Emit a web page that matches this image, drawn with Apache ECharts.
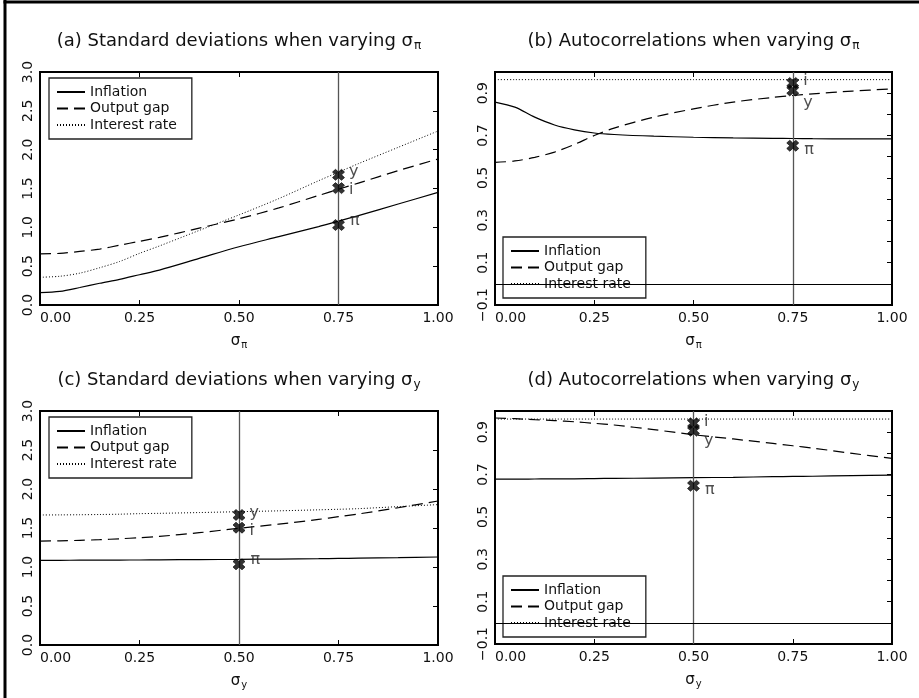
<!DOCTYPE html>
<html><head><meta charset="utf-8">
<script src="https://cdn.jsdelivr.net/npm/echarts@6/dist/echarts.min.js"></script>
<style>html,body{margin:0;padding:0;background:#fff}#c{width:919px;height:698px}</style>
</head><body><div id="c"></div>
<script>
// ---------- data ----------
const xs = [0, 0.05, 0.1, 0.15, 0.2, 0.25, 0.3, 0.4, 0.5, 0.6, 0.7, 0.75, 0.8, 0.9, 1.0];
const seriesNames = ['Inflation', 'Output gap', 'Interest rate'];
const panelTitles = ['(a) Standard deviations when varying', '(b) Autocorrelations when varying',
                     '(c) Standard deviations when varying', '(d) Autocorrelations when varying'];
const varySub = ['π', 'π', 'y', 'y'];

// (a) standard deviations, varying sigma_pi
const aInflation = [0.159, 0.175, 0.225, 0.28, 0.33, 0.39, 0.45, 0.60, 0.75, 0.88, 1.01, 1.08, 1.15, 1.30, 1.45];
const aOutput    = [0.658, 0.665, 0.69, 0.72, 0.77, 0.82, 0.87, 0.99, 1.11, 1.25, 1.41, 1.49, 1.57, 1.73, 1.88];
const aInterest  = [0.357, 0.37, 0.41, 0.48, 0.56, 0.665, 0.76, 0.96, 1.16, 1.37, 1.60, 1.71, 1.82, 2.03, 2.24];
// (b) autocorrelations, varying sigma_pi
const bInflation = [0.858, 0.834, 0.787, 0.75, 0.727, 0.712, 0.705, 0.697, 0.692, 0.689, 0.687, 0.686, 0.685, 0.684, 0.684];
const bOutput    = [0.573, 0.58, 0.597, 0.622, 0.658, 0.70, 0.735, 0.787, 0.826, 0.858, 0.88, 0.889, 0.897, 0.91, 0.92];
const bInterest  = [0.964, 0.964, 0.964, 0.964, 0.964, 0.964, 0.964, 0.964, 0.964, 0.964, 0.964, 0.964, 0.964, 0.964, 0.964];
// (c) standard deviations, varying sigma_y
const cInflation = [1.085, 1.086, 1.087, 1.088, 1.089, 1.09, 1.092, 1.095, 1.098, 1.102, 1.107, 1.11, 1.113, 1.12, 1.128];
const cOutput    = [1.333, 1.335, 1.342, 1.35, 1.362, 1.376, 1.392, 1.44, 1.496, 1.55, 1.61, 1.645, 1.68, 1.76, 1.846];
const cInterest  = [1.667, 1.668, 1.67, 1.673, 1.677, 1.684, 1.688, 1.698, 1.709, 1.72, 1.733, 1.74, 1.748, 1.774, 1.80];
// (d) autocorrelations, varying sigma_y
const dInflation = [0.678, 0.678, 0.679, 0.68, 0.68, 0.681, 0.682, 0.683, 0.685, 0.687, 0.69, 0.691, 0.692, 0.695, 0.697];
const dOutput    = [0.967, 0.964, 0.959, 0.955, 0.949, 0.942, 0.934, 0.912, 0.888, 0.868, 0.847, 0.836, 0.825, 0.80, 0.776];
const dInterest  = [0.962, 0.962, 0.962, 0.962, 0.962, 0.962, 0.962, 0.962, 0.962, 0.962, 0.962, 0.962, 0.962, 0.962, 0.962];

// benchmark points (x position of the vertical line and marked values)
const benchX = [0.75, 0.75, 0.5, 0.5];
const markLabelsA = ['y', 'i', 'π'], markValuesA = [1.676, 1.505, 1.03];
const markLabelsB = ['i', 'y', 'π'], markValuesB = [0.948, 0.913, 0.652];
const markLabelsC = ['y', 'i', 'π'], markValuesC = [1.667, 1.504, 1.034];
const markLabelsD = ['i', 'y', 'π'], markValuesD = [0.942, 0.907, 0.647];

// ---------- layout / styles ----------
const FONT = 'DejaVu Sans';
const panels = [
  {inf: aInflation, out: aOutput, int: aInterest, labs: markLabelsA, vals: markValuesA, kind: 'sd'},
  {inf: bInflation, out: bOutput, int: bInterest, labs: markLabelsB, vals: markValuesB, kind: 'ac'},
  {inf: cInflation, out: cOutput, int: cInterest, labs: markLabelsC, vals: markValuesC, kind: 'sd'},
  {inf: dInflation, out: dOutput, int: dInterest, labs: markLabelsD, vals: markValuesD, kind: 'ac'}
];
const gridRects = [
  {left: 40, top: 72, width: 398, height: 233},
  {left: 495, top: 72, width: 397, height: 233},
  {left: 40, top: 411, width: 398, height: 234},
  {left: 495, top: 411, width: 397, height: 233}
];
const legendPos = [{left: 49, top: 78}, {left: 503, top: 237}, {left: 49, top: 417}, {left: 503, top: 576}];
const labelOffsets = [
  {y: [0, -3], i: [0, 2], 'π': [1, -4]},
  {i: [0, -2], y: [0, 12], 'π': [1, 4]},
  {y: [0, -2], i: [0, 3], 'π': [1, -5]},
  {i: [0, -1], y: [0, 10], 'π': [1, 4]}
];
const XPATH = 'path://M0,2.5 L2.5,0 L5,2.5 L7.5,0 L10,2.5 L7.5,5 L10,7.5 L7.5,10 L5,7.5 L2.5,10 L0,7.5 L2.5,5 Z';
const lineTypes = ['solid', [11, 6], [1, 2]];

const subRich = (fs) => ({
  s: {fontSize: fs, fontFamily: FONT, color: '#111'},
  sub: {fontSize: Math.round(fs * 0.68), fontFamily: FONT, color: '#111', padding: [Math.round(fs * 0.5), 0, 0, 1]}
});

const option = {
  animation: false,
  backgroundColor: '#fff',
  title: [], grid: [], xAxis: [], yAxis: [], legend: [], series: [],
  graphic: [
    {type: 'line', shape: {x1: 5, y1: 0, x2: 5, y2: 698}, style: {stroke: '#000', lineWidth: 3}, silent: true},
    {type: 'line', shape: {x1: 3.5, y1: 2, x2: 919, y2: 2}, style: {stroke: '#000', lineWidth: 3}, silent: true}
  ]
};

panels.forEach((p, k) => {
  const g = gridRects[k];
  const sd = p.kind === 'sd';
  option.title.push({
    text: panelTitles[k] + ' {s|σ}{sub|' + varySub[k] + '}',
    left: g.left + g.width / 2, top: g.top - 41, textAlign: 'center', padding: 0,
    textStyle: {fontSize: 18, fontWeight: 'normal', fontFamily: FONT, color: '#111', rich: subRich(18)}
  });
  option.grid.push(Object.assign({}, g, {show: true, borderColor: '#000', borderWidth: 2,
    backgroundColor: 'transparent', containLabel: false, outerBoundsMode: 'none'}));
  const xBase = {type: 'value', gridIndex: k, min: 0, max: 1, interval: 0.25,
    splitLine: {show: false}, axisLine: {show: false, onZero: false}};
  option.xAxis.push(Object.assign({}, xBase, {
    position: 'bottom',
    name: '{s|σ}{sub|' + varySub[k] + '}', nameLocation: 'middle', nameGap: 27,
    nameTextStyle: {rich: subRich(15)},
    axisTick: {show: true, inside: true, length: 5, lineStyle: {color: '#000', width: 1}},
    axisLabel: {show: true, fontSize: 14, fontFamily: FONT, color: '#111', margin: 6,
      alignMinLabel: 'left', showMinLabel: true, showMaxLabel: true,
      formatter: v => v.toFixed(2)}
  }));
  option.xAxis.push(Object.assign({}, xBase, {
    position: 'top',
    axisTick: {show: true, inside: true, length: 5, lineStyle: {color: '#000', width: 1}},
    axisLabel: {show: false}
  }));
  const yBase = sd ? {min: 0, max: 3, interval: 0.5} : {min: -0.1, max: 1.0, interval: 0.1};
  const yFmt = sd ? (v => v.toFixed(1)) :
    (v => { const t = Math.round(v * 10); return (Math.abs(t) % 2 === 1) ? (t < 0 ? '\u2212' : '') + (Math.abs(t) / 10).toFixed(1) : ''; });
  option.yAxis.push(Object.assign({type: 'value', gridIndex: k, position: 'left',
    splitLine: {show: false}, axisLine: {show: false, onZero: false}, axisTick: {show: false},
    axisLabel: {show: true, rotate: 90, fontSize: 14, fontFamily: FONT, color: '#111', margin: 5,
      showMinLabel: true, showMaxLabel: true, formatter: yFmt}}, yBase));
  option.yAxis.push(Object.assign({type: 'value', gridIndex: k, position: 'right',
    splitLine: {show: false}, axisLine: {show: false, onZero: false},
    axisTick: {show: true, inside: true, length: 5, lineStyle: {color: '#000', width: 1}},
    axisLabel: {show: false}}, yBase));

  option.legend.push(Object.assign({
    orient: 'vertical', data: seriesNames, selectedMode: false,
    backgroundColor: '#fff', borderColor: '#222', borderWidth: 1.3, borderRadius: 0,
    padding: [7, 15, 7, 7], itemWidth: 28, itemHeight: 14, itemGap: 2.5,
    itemStyle: {opacity: 0, color: 'transparent', borderWidth: 0},
    textStyle: {fontSize: 14, fontFamily: FONT, color: '#111'}
  }, legendPos[k]));

  [p.inf, p.out, p.int].forEach((arr, j) => {
    option.series.push({
      type: 'line', name: seriesNames[j], xAxisIndex: 2 * k, yAxisIndex: 2 * k,
      data: xs.map((x, i) => [x, arr[i]]), smooth: 0.3, symbol: 'none', silent: true,
      lineStyle: {color: '#000', width: j === 2 ? 1 : 1.2, type: lineTypes[j]},
      itemStyle: {color: '#000'}, z: 2
    });
  });

  const mlData = [{xAxis: benchX[k], lineStyle: {color: '#555', width: 1.3, type: 'solid'}}];
  if (!sd) mlData.push({yAxis: 0, lineStyle: {color: '#000', width: 1.1, type: 'solid'}});
  option.series.push({
    type: 'scatter', name: 'bench' + k, xAxisIndex: 2 * k, yAxisIndex: 2 * k, silent: true,
    symbol: XPATH, symbolSize: [12, 11], itemStyle: {color: '#000', borderColor: '#000', borderWidth: 0.8}, z: 5,
    label: {show: true, position: 'right', distance: 4, fontSize: 16, fontFamily: FONT, color: '#222'},
    data: p.labs.map((lab, i) => ({value: [benchX[k], p.vals[i]],
      label: {formatter: lab, offset: labelOffsets[k][lab]}})),
    markLine: {silent: true, symbol: ['none', 'none'], label: {show: false}, animation: false, data: mlData}
  });
});

const chart = echarts.init(document.getElementById('c'), null, {renderer: 'canvas'});
chart.setOption(option);
</script>
</body></html>
